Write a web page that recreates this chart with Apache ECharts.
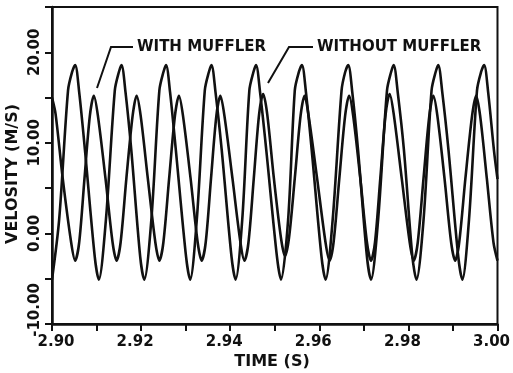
<!DOCTYPE html>
<html>
<head>
<meta charset="utf-8">
<script src="https://cdn.jsdelivr.net/npm/echarts@6/dist/echarts.min.js"></script>
<style>html,body{margin:0;padding:0;background:#fff;}#c{width:513px;height:373px;}</style>
</head>
<body>
<div id="c"></div>
<script>
// Series data [time (s), velocity (m/s)]
var withoutMuffler = [
  [2.9000,-5.1],[2.9016,1.5],[2.9036,15.8],[2.9045,17.8],[2.9052,18.6],[2.9061,15.6],[2.9074,9.2],[2.9096,-2.6],
  [2.9105,-5.1],[2.9121,1.5],[2.9141,15.8],[2.9150,17.8],[2.9156,18.6],[2.9165,15.6],[2.9178,9.2],[2.9198,-2.6],
  [2.9207,-5.1],[2.9223,1.5],[2.9241,15.8],[2.9250,17.8],[2.9256,18.6],[2.9265,15.6],[2.9278,9.2],[2.9301,-2.6],
  [2.9310,-5.1],[2.9325,1.5],[2.9343,15.8],[2.9352,17.8],[2.9358,18.6],[2.9367,15.6],[2.9381,9.2],[2.9403,-2.6],
  [2.9412,-5.1],[2.9427,1.5],[2.9443,15.8],[2.9452,17.8],[2.9458,18.6],[2.9467,15.6],[2.9481,9.2],[2.9505,-2.6],
  [2.9514,-5.1],[2.9530,1.5],[2.9545,15.8],[2.9554,17.8],[2.9561,18.6],[2.9570,15.6],[2.9583,9.2],[2.9605,-2.6],
  [2.9614,-5.1],[2.9630,1.5],[2.9650,15.8],[2.9658,17.8],[2.9665,18.6],[2.9674,15.6],[2.9687,9.2],[2.9707,-2.6],
  [2.9716,-5.1],[2.9732,1.5],[2.9752,15.8],[2.9761,17.8],[2.9767,18.6],[2.9776,15.6],[2.9790,9.2],[2.9809,-2.6],
  [2.9818,-5.1],[2.9834,1.5],[2.9852,15.8],[2.9861,17.8],[2.9867,18.6],[2.9876,15.6],[2.9890,9.2],[2.9912,-2.6],
  [2.9921,-5.1],[2.9936,1.5],[2.9954,15.8],[2.9963,17.8],[2.9970,18.6],[2.9979,15.6],[2.9992,9.2],[3.0000,6.0]
];
var withMuffler = [
  [2.9000,15.0],[2.9008,13.2],[2.9024,6.1],[2.9043,-1.0],[2.9052,-3.0],[2.9061,-1.0],[2.9073,6.1],[2.9085,13.0],
  [2.9094,15.2],[2.9103,13.0],[2.9120,6.1],[2.9136,-1.0],[2.9145,-3.0],[2.9154,-1.0],[2.9167,6.1],[2.9181,13.0],
  [2.9190,15.2],[2.9199,13.0],[2.9215,6.1],[2.9232,-1.0],[2.9241,-3.0],[2.9250,-1.0],[2.9263,6.1],[2.9276,13.0],
  [2.9285,15.2],[2.9294,13.0],[2.9311,6.1],[2.9327,-1.0],[2.9336,-3.0],[2.9345,-1.0],[2.9357,6.1],[2.9369,13.0],
  [2.9378,15.2],[2.9387,13.0],[2.9405,6.1],[2.9423,-1.0],[2.9432,-3.0],[2.9441,-1.0],[2.9453,6.1],[2.9465,13.2],
  [2.9474,15.4],[2.9483,13.2],[2.9498,6.1],[2.9514,-0.5],[2.9523,-2.5],[2.9532,-0.5],[2.9545,6.1],[2.9558,13.0],
  [2.9567,15.2],[2.9576,13.0],[2.9595,6.1],[2.9614,-1.0],[2.9623,-3.0],[2.9632,-1.0],[2.9645,6.1],[2.9658,13.0],
  [2.9667,15.2],[2.9676,13.0],[2.9692,6.1],[2.9707,-1.0],[2.9716,-3.0],[2.9725,-1.0],[2.9737,6.1],[2.9749,13.2],
  [2.9758,15.4],[2.9767,13.2],[2.9785,6.1],[2.9803,-1.0],[2.9812,-3.0],[2.9821,-1.0],[2.9834,6.1],[2.9847,13.0],
  [2.9856,15.2],[2.9865,13.0],[2.9881,6.1],[2.9896,-1.0],[2.9905,-3.0],[2.9914,-1.0],[2.9928,6.1],[2.9943,13.0],
  [2.9952,15.2],[2.9961,13.0],[2.9976,6.1],[2.9991,-1.0],[3.0000,-3.0]
];
var xTickLabels = ['2.90','2.92','2.94','2.96','2.98','3.00'];
var yTickLabels = ['-10.00','0.00','10.00','20.00'];
var xName = 'TIME (S)';
var yName = 'VELOSITY (M/S)';
var withLabel = 'WITH MUFFLER';
var withoutLabel = 'WITHOUT MUFFLER';

var FONT = '"DejaVu Sans", sans-serif';
var INK = '#111';
var labelFont = {color: INK, fontFamily: FONT, fontWeight: 'bold', fontSize: 15};

var chart = echarts.init(document.getElementById('c'), null, {renderer: 'canvas'});
chart.setOption({
  animation: false,
  backgroundColor: '#fff',
  grid: {left: 52, right: 11, top: 7, bottom: 49, show: true, borderColor: INK, borderWidth: 2, backgroundColor: 'transparent'},
  xAxis: {
    type: 'value', min: 2.9, max: 3.0, interval: 0.01,
    axisLine: {show: true, onZero: false, lineStyle: {color: INK, width: 2.5}},
    axisTick: {show: true, length: 7, lineStyle: {color: INK, width: 2}},
    splitLine: {show: false},
    axisLabel: {
      margin: 11, color: INK, fontFamily: FONT, fontWeight: 'bold', fontSize: 15,
      formatter: function (v) {
        var s = v.toFixed(2);
        var i = xTickLabels.indexOf(s);
        if (i < 0) return '';
        return (i === 0 ? '{e|' : '{n|') + s + '}';
      },
      rich: {
        n: Object.assign({padding: [0, 12, 0, 0]}, labelFont),
        e: Object.assign({padding: [0, 0, 0, 8]}, labelFont)
      }
    }
  },
  yAxis: {
    type: 'value', min: -10, max: 25, interval: 5,
    axisLine: {show: true, onZero: false, lineStyle: {color: INK, width: 2.5}},
    axisTick: {show: true, length: 7, lineStyle: {color: INK, width: 2}},
    splitLine: {show: false},
    axisLabel: {
      rotate: 90, margin: 9, color: INK, fontFamily: FONT, fontWeight: 'bold', fontSize: 15,
      formatter: function (v) {
        var s = v.toFixed(2);
        var i = yTickLabels.indexOf(s);
        if (i < 0) return '';
        return (i === 0 ? '{m|' : '{n|') + s + '}';
      },
      rich: {
        n: Object.assign({}, labelFont),
        m: Object.assign({padding: [0, 0, 0, 28]}, labelFont)
      }
    }
  },
  series: [
    {name: withoutLabel, type: 'line', data: withoutMuffler, showSymbol: false, smooth: 0.3,
     lineStyle: {color: INK, width: 2.6}, z: 3},
    {name: withLabel, type: 'line', data: withMuffler, showSymbol: false, smooth: 0.3,
     lineStyle: {color: INK, width: 2.6}, z: 3}
  ],
  graphic: [
    {type: 'text', left: 137, top: 40, style: {text: withLabel, font: 'bold 15px ' + FONT, fill: INK}},
    {type: 'polyline', shape: {points: [[133, 47], [111, 47], [97, 88]]}, style: {stroke: INK, lineWidth: 2, fill: null}},
    {type: 'text', left: 317, top: 40, style: {text: withoutLabel, font: 'bold 15px ' + FONT, fill: INK}},
    {type: 'polyline', shape: {points: [[313, 47], [289, 47], [268, 83]]}, style: {stroke: INK, lineWidth: 2, fill: null}},
    {type: 'text', x: 272, y: 362, style: {text: xName, font: 'bold 16px ' + FONT, fill: INK, align: 'center', verticalAlign: 'middle'}},
    {type: 'text', x: 13, y: 174, rotation: Math.PI / 2, style: {text: yName, font: 'bold 16px ' + FONT, fill: INK, align: 'center', verticalAlign: 'middle'}}
  ]
});
</script>
</body>
</html>
